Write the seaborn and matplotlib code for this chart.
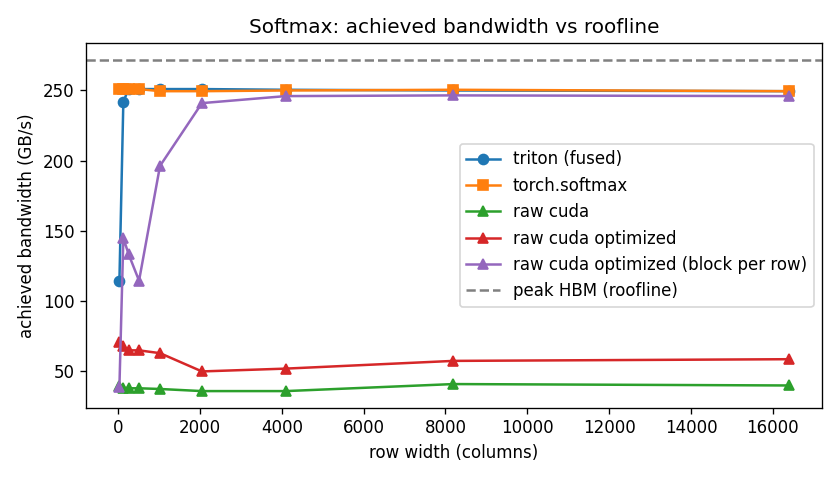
import matplotlib
matplotlib.use("Agg")
import matplotlib.pyplot as plt
import seaborn as sns

# row widths (columns)
row_width = [32, 128, 256, 512, 1024, 2048, 4096, 8192, 16384]

# achieved bandwidth in GB/s
triton_fused = [114.5, 242, 251, 251, 251, 251, 250.5, 250, 249.5]
torch_softmax = [251, 251, 251, 251, 249.5, 249.5, 250, 250.5, 249.5]
raw_cuda = [39.5, 38.5, 38, 38, 37.5, 36, 36, 41, 40]
raw_cuda_opt = [71, 68, 65, 65, 63, 50, 52, 57.5, 58.7]
raw_cuda_block = [39, 145, 133.5, 114.6, 196.3, 241, 246, 246.5, 246]

peak_hbm = 272

series = [
    ("triton (fused)", triton_fused, "o", "#1f77b4"),
    ("torch.softmax", torch_softmax, "s", "#ff7f0e"),
    ("raw cuda", raw_cuda, "^", "#2ca02c"),
    ("raw cuda optimized", raw_cuda_opt, "^", "#d62728"),
    ("raw cuda optimized (block per row)", raw_cuda_block, "^", "#9467bd"),
]

fig, ax = plt.subplots(figsize=(7, 4), dpi=120)

for label, vals, mk, col in series:
    sns.lineplot(
        x=row_width,
        y=vals,
        marker=mk,
        color=col,
        label=label,
        markersize=6,
        markeredgecolor=col,
        markeredgewidth=1,
        linewidth=1.5,
        ax=ax,
    )

ax.axhline(peak_hbm, color="gray", linestyle="--", linewidth=1.5, label="peak HBM (roofline)")

ax.set_title("Softmax: achieved bandwidth vs roofline")
ax.set_xlabel("row width (columns)")
ax.set_ylabel("achieved bandwidth (GB/s)")
ax.legend(loc="center right")

fig.tight_layout()
fig.savefig("out.png", dpi=120)
